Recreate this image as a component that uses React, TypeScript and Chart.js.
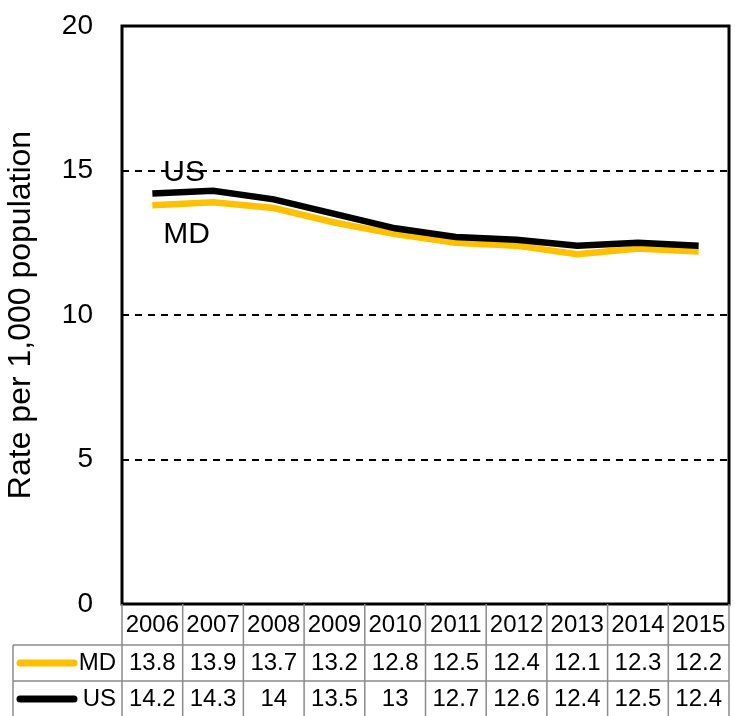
import React, { useEffect, useRef } from "react";
import { Chart, registerables } from "chart.js";

Chart.register(...registerables);

const years = ["2006", "2007", "2008", "2009", "2010", "2011", "2012", "2013", "2014", "2015"];
const mdValues = [13.8, 13.9, 13.7, 13.2, 12.8, 12.5, 12.4, 12.1, 12.3, 12.2];
const usValues = [14.2, 14.3, 14, 13.5, 13, 12.7, 12.6, 12.4, 12.5, 12.4];
const mdLabels = ["13.8", "13.9", "13.7", "13.2", "12.8", "12.5", "12.4", "12.1", "12.3", "12.2"];
const usLabels = ["14.2", "14.3", "14", "13.5", "13", "12.7", "12.6", "12.4", "12.5", "12.4"];
const seriesNames = ["MD", "US"];
const seriesColors = ["#FFC000", "#000000"];
const yTicks = [0, 5, 10, 15, 20];

const FONT = "'Liberation Sans', Arial, sans-serif";

const framePlugin = {
  id: "framePlugin",
  afterDatasetsDraw(chart: any) {
    const { ctx, chartArea } = chart;
    ctx.save();
    ctx.strokeStyle = "#000";
    ctx.lineWidth = 3;
    ctx.strokeRect(chartArea.left, chartArea.top, chartArea.right - chartArea.left, chartArea.bottom - chartArea.top);
    ctx.restore();
  },
  afterDraw(chart: any) {
    const { ctx, chartArea, scales } = chart;
    const xs = scales.x;
    const ys = scales.y;
    const step = xs.getPixelForValue(1) - xs.getPixelForValue(0);
    const left = chartArea.left;
    const right = chartArea.right;
    const top = chartArea.bottom;
    const rowH = [41, 36, 36];
    const r1 = top + rowH[0];
    const r2 = r1 + rowH[1];
    const r3 = r2 + rowH[2];
    const legendLeft = 13;

    ctx.save();
    ctx.strokeStyle = "#8c8c8c";
    ctx.lineWidth = 1.5;
    ctx.beginPath();
    for (let i = 0; i <= years.length; i++) {
      const x = i === 0 ? left : i === years.length ? right : xs.getPixelForValue(i) - step / 2;
      ctx.moveTo(x, top);
      ctx.lineTo(x, r3);
    }
    ctx.moveTo(legendLeft, r1);
    ctx.lineTo(legendLeft, r3);
    ctx.moveTo(legendLeft, r1);
    ctx.lineTo(right, r1);
    ctx.moveTo(legendLeft, r2);
    ctx.lineTo(right, r2);
    ctx.stroke();

    ctx.fillStyle = "#000";
    ctx.font = `24px ${FONT}`;
    ctx.textAlign = "center";
    ctx.textBaseline = "middle";
    const rows = [years, mdLabels, usLabels];
    const centers = [top + rowH[0] / 2 + 1, r1 + rowH[1] / 2, r2 + rowH[2] / 2];
    rows.forEach((row, ri) => {
      row.forEach((t, i) => {
        ctx.fillText(t, xs.getPixelForValue(i), centers[ri]);
      });
    });

    for (let s = 0; s < 2; s++) {
      const cy = centers[s + 1];
      ctx.strokeStyle = seriesColors[s];
      ctx.lineWidth = 7;
      ctx.lineCap = "round";
      ctx.beginPath();
      ctx.moveTo(20, cy);
      ctx.lineTo(74, cy);
      ctx.stroke();
      ctx.textAlign = "right";
      ctx.fillText(seriesNames[s], 116, cy);
    }

    ctx.font = `30px ${FONT}`;
    ctx.textAlign = "left";
    ctx.textBaseline = "alphabetic";
    const x0 = xs.getPixelForValue(0) + 11;
    ctx.fillText("US", x0, ys.getPixelForValue(usValues[0]) - 13);
    ctx.fillText("MD", x0, ys.getPixelForValue(mdValues[0]) + 38);
    ctx.restore();
  },
};

export default function App() {
  const ref = useRef<HTMLCanvasElement>(null);
  useEffect(() => {
    if (!ref.current) return;
    const chart = new Chart(ref.current, {
      type: "line",
      data: {
        labels: years,
        datasets: [
          {
            label: seriesNames[0],
            data: mdValues,
            borderColor: seriesColors[0],
            backgroundColor: seriesColors[0],
            borderWidth: 6.5,
            pointRadius: 0,
            tension: 0,
            order: 1,
          },
          {
            label: seriesNames[1],
            data: usValues,
            borderColor: seriesColors[1],
            backgroundColor: seriesColors[1],
            borderWidth: 6.5,
            pointRadius: 0,
            tension: 0,
            order: 0,
          },
        ],
      },
      options: {
        responsive: false,
        animation: false,
        devicePixelRatio: 1,
        layout: { padding: { top: 26, right: 6, left: 0, bottom: 0 } },
        plugins: { legend: { display: false }, tooltip: { enabled: false } },
        scales: {
          x: {
            type: "category",
            offset: true,
            grid: { display: false },
            border: { display: false },
            ticks: { display: false },
            afterFit: (scale: any) => {
              scale.height = 112;
              scale.paddingLeft = 0;
              scale.paddingRight = 0;
            },
          },
          y: {
            min: 0,
            max: 20,
            afterBuildTicks: (scale: any) => {
              scale.ticks = yTicks.map((v) => ({ value: v }));
            },
            border: { display: false, dash: [7, 6] },
            grid: {
              drawTicks: false,
              color: (c: any) => (c.tick && (c.tick.value === 0 || c.tick.value === 20) ? "rgba(0,0,0,0)" : "#000"),
              lineWidth: 2,
            },
            ticks: {
              padding: 29,
              crossAlign: "near",
              color: "#000",
              font: { family: FONT, size: 28 },
            },
            title: {
              display: true,
              text: "Rate per 1,000 population",
              color: "#000",
              font: { family: FONT, size: 32 },
              padding: { top: 2, bottom: 0 },
            },
            afterFit: (scale: any) => {
              scale.width = 122;
              scale.paddingTop = 0;
              scale.paddingBottom = 0;
            },
          },
        },
      },
      plugins: [framePlugin],
    });
    return () => chart.destroy();
  }, []);
  return (
    <div style={{ position: "absolute", left: 0, top: 0, width: 735, height: 716 }}>
      <canvas ref={ref} width={735} height={716} />
    </div>
  );
}
